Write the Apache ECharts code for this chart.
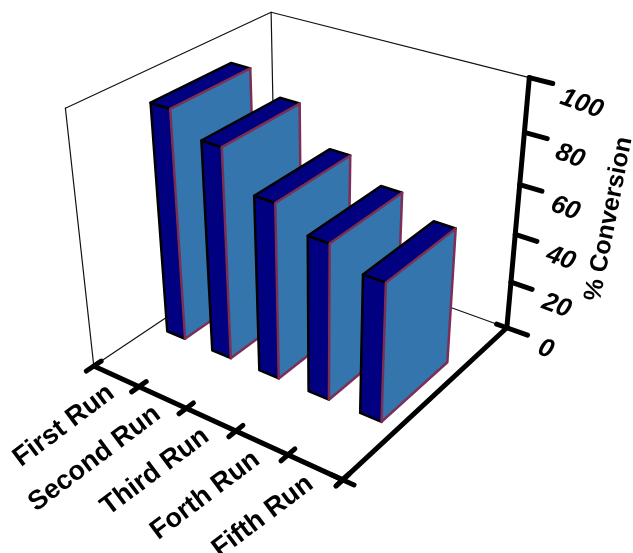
<!DOCTYPE html>
<html>
<head>
<meta charset="utf-8">
<style>
html, body, #main { margin: 0; padding: 0; width: 633px; height: 553px; background: #fff; }
</style>
<script src="https://cdn.jsdelivr.net/npm/echarts@6/dist/echarts.min.js"></script>
</head>
<body>
<div id="main"></div>
<script>
var runs = ['First Run', 'Second Run', 'Third Run', 'Forth Run', 'Fifth Run'];
var conversion = [92, 84, 70, 62, 55];
var valueTicks = [0, 20, 40, 60, 80, 100];

// camera fit: box corners [u, v, w] -> screen [x, y]
var fitPoints = [
    [0, 0, 0, 93, 367], [1, 0, 0, 343, 479], [1, 1, 0, 506, 329], [0, 1, 0, 277, 243],
    [0, 0, 1, 66, 108], [1, 1, 1, 530, 77], [0, 1, 1, 270, 13]
];

function solveCamera(pts) {
    var rows = [], rhs = [];
    pts.forEach(function (p) {
        rows.push([p[0], p[1], p[2], 1, 0, 0, 0, 0, -p[3] * p[0], -p[3] * p[1], -p[3] * p[2]]);
        rhs.push(p[3]);
        rows.push([0, 0, 0, 0, p[0], p[1], p[2], 1, -p[4] * p[0], -p[4] * p[1], -p[4] * p[2]]);
        rhs.push(p[4]);
    });
    var n = 11, m = [];
    for (var i = 0; i < n; i++) {
        m[i] = [];
        for (var j = 0; j <= n; j++) {
            var s = 0;
            for (var k = 0; k < rows.length; k++) {
                s += rows[k][i] * (j < n ? rows[k][j] : rhs[k]);
            }
            m[i][j] = s;
        }
    }
    for (i = 0; i < n; i++) {
        var best = i;
        for (k = i + 1; k < n; k++) {
            if (Math.abs(m[k][i]) > Math.abs(m[best][i])) best = k;
        }
        var t = m[i]; m[i] = m[best]; m[best] = t;
        for (k = 0; k < n; k++) {
            if (k === i) continue;
            var f = m[k][i] / m[i][i];
            for (j = i; j <= n; j++) m[k][j] -= f * m[i][j];
        }
    }
    return m.map(function (r, idx) { return r[n] / r[idx]; });
}
var cam = solveCamera(fitPoints);

function project(u, v, w) {
    var d = cam[8] * u + cam[9] * v + cam[10] * w + 1;
    return [
        (cam[0] * u + cam[1] * v + cam[2] * w + cam[3]) / d,
        (cam[4] * u + cam[5] * v + cam[6] * w + cam[7]) / d
    ];
}

// data -> unit box through the hidden cartesian axes
function toUnit(params, api, cat, val) {
    var c = api.coord([cat, val]);
    var g = params.coordSys;
    return [(c[0] - g.x) / g.width, 1 - (c[1] - g.y) / g.height];
}

function line(a, b, width, color) {
    return {
        type: 'line',
        shape: { x1: a[0], y1: a[1], x2: b[0], y2: b[1] },
        style: { stroke: color, lineWidth: width, lineCap: 'round' }
    };
}

function face(points, fill, stroke, width) {
    return {
        type: 'polygon',
        shape: { points: points },
        style: { fill: fill, stroke: stroke, lineWidth: width, lineJoin: 'round' }
    };
}

function renderFrame() {
    var c = '#111';
    return {
        type: 'group',
        children: [
            line(project(0, 0, 0), project(0, 0, 1), 1.2, c),
            line(project(0, 0, 1), project(0, 1, 1), 1.2, c),
            line(project(0, 1, 1), project(1, 1, 1), 1.2, c),
            line(project(0, 1, 0), project(0, 1, 1), 1.2, c),
            line(project(0, 0, 0), project(0, 1, 0), 1.2, c),
            line(project(0, 1, 0), project(1, 1, 0), 1.2, c)
        ]
    };
}

function renderBar(params, api) {
    var top = toUnit(params, api, api.value(0), api.value(1));
    var half = 0.4 * api.size([1, 0])[0] / params.coordSys.width / 2;
    var u0 = top[0] - half, u1 = top[0] + half, w = top[1];
    var v0 = 0.3, v1 = 0.7;
    return {
        type: 'group',
        children: [
            face([project(u0, v0, 0), project(u1, v0, 0), project(u1, v0, w), project(u0, v0, w)], '#000080', '#000', 2.5),
            face([project(u0, v0, w), project(u1, v0, w), project(u1, v1, w), project(u0, v1, w)], '#000080', '#000', 2.5),
            face([project(u1, v0, 0), project(u1, v1, 0), project(u1, v1, w), project(u1, v0, w)], '#3375ac', '#7e2e56', 2.5)
        ]
    };
}

function renderValueTick(params, api) {
    var val = api.value(1);
    var w = toUnit(params, api, 0, val)[1];
    var at = project(1, 1, w);
    var end = project(1.08, 1, w);
    return {
        type: 'group',
        children: [
            line(at, end, 5, '#000'),
            {
                type: 'text',
                x: at[0] + 32,
                y: at[1] + 19,
                rotation: -20 * Math.PI / 180,
                style: {
                    text: String(val),
                    fontFamily: 'Liberation Sans',
                    fontWeight: 'bold',
                    fontStyle: 'italic',
                    fontSize: 26,
                    fill: '#000',
                    align: 'left',
                    verticalAlign: 'middle'
                }
            }
        ]
    };
}

function renderRunTick(params, api) {
    var idx = api.value(0);
    var u = toUnit(params, api, idx, 0)[0];
    var half = api.size([1, 0])[0] / params.coordSys.width / 2;
    var kids = [line(project(u - half, -0.035, 0), project(u - half, 0.035, 0), 5, '#000')];
    if (idx === runs.length - 1) {
        kids.push(line(project(u + half, -0.035, 0), project(u + half, 0.035, 0), 5, '#000'));
    }
    var p = project(u, 0, 0);
    kids.push({
        type: 'text',
        x: p[0] - 13,
        y: p[1] + 3,
        rotation: 37 * Math.PI / 180,
        style: {
            text: runs[idx],
            fontFamily: 'Liberation Sans',
            fontWeight: 'bold',
            fontSize: 27,
            fill: '#000',
            align: 'right',
            verticalAlign: 'top'
        }
    });
    return { type: 'group', children: kids };
}

function renderAxes() {
    return {
        type: 'group',
        children: [
            line(project(0, 0, 0), project(1, 0, 0), 5, '#000'),
            line(project(1, 0, 0), project(1, 1, 0), 5, '#000'),
            line(project(1, 1, 0), project(1, 1, 1), 5, '#000'),
            line(project(1, -0.03, 0), project(1, 0.03, 0), 5, '#000'),
            line(project(0.96, 0, 0), project(1.04, 0, 0), 5, '#000'),
            line(project(0.96, 1, 0), project(1, 1, 0), 5, '#000'),
            {
                type: 'text',
                x: 609,
                y: 219,
                rotation: 79 * Math.PI / 180,
                style: {
                    text: '% Conversion',
                    fontFamily: 'Liberation Sans',
                    fontWeight: 'bold',
                    fontSize: 25,
                    fill: '#000',
                    align: 'center',
                    verticalAlign: 'middle'
                }
            }
        ]
    };
}

var chart = echarts.init(document.getElementById('main'));
chart.setOption({
    backgroundColor: '#fff',
    animation: false,
    grid: { left: 0, right: 0, top: 0, bottom: 0 },
    xAxis: { type: 'category', data: runs, show: false },
    yAxis: { type: 'value', min: 0, max: 100, interval: 20, show: false },
    series: [
        { type: 'custom', silent: true, z: 1, renderItem: renderFrame, data: [[0, 0]] },
        {
            type: 'custom',
            name: '% Conversion',
            z: 2,
            renderItem: renderBar,
            encode: { x: 0, y: 1 },
            data: conversion.map(function (v, i) { return [i, v]; })
        },
        { type: 'custom', silent: true, z: 3, renderItem: renderAxes, data: [[0, 0]] },
        {
            type: 'custom',
            silent: true,
            z: 3,
            renderItem: renderValueTick,
            encode: { x: 0, y: 1 },
            data: valueTicks.map(function (v) { return [0, v]; })
        },
        {
            type: 'custom',
            silent: true,
            z: 3,
            renderItem: renderRunTick,
            encode: { x: 0, y: 1 },
            data: runs.map(function (r, i) { return [i, 0]; })
        }
    ]
});
</script>
</body>
</html>
